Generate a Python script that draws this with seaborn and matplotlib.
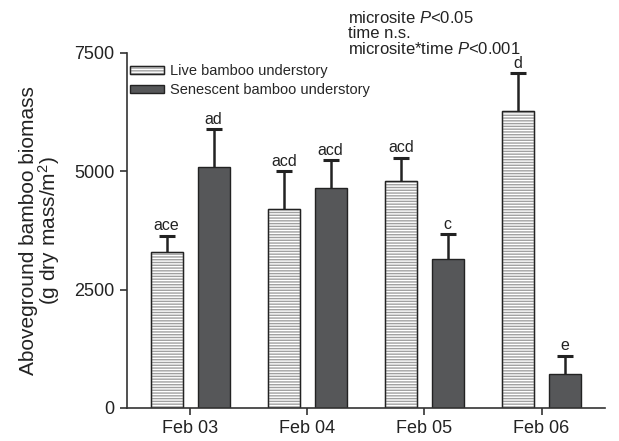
import numpy as np
import pandas as pd
import seaborn as sns
import matplotlib.pyplot as plt
from matplotlib import patches
from matplotlib.legend_handler import HandlerTuple

# data
dates = ["Feb 03", "Feb 04", "Feb 05", "Feb 06"]
groups = ["Live bamboo understory", "Senescent bamboo understory"]
live = [3300, 4200, 4790, 6270]
live_err = [340, 800, 490, 800]
senescent = [5090, 4640, 3140, 720]
senescent_err = [800, 590, 530, 380]
live_letters = ["ace", "acd", "acd", "d"]
senescent_letters = ["ad", "acd", "c", "e"]
yticks = [0, 2500, 5000, 7500]

DARK = "#555759"
HATCH_GREY = "#a0a0a0"
BLACK = "#222222"

sns.set_style("ticks")
plt.rcParams["font.family"] = ["Liberation Sans", "DejaVu Sans"]
plt.rcParams["mathtext.fontset"] = "custom"
plt.rcParams["mathtext.rm"] = "Liberation Sans"
plt.rcParams["mathtext.it"] = "Liberation Sans:italic"
plt.rcParams["hatch.linewidth"] = 1.0

df = pd.DataFrame({
    "date": dates * 2,
    "biomass": live + senescent,
    "understory": [groups[0]] * 4 + [groups[1]] * 4,
})

fig = plt.figure(figsize=(6.19, 4.41), dpi=100)
ax = fig.add_axes([0.205, 0.075, 0.772, 0.805])

sns.barplot(data=df, x="date", y="biomass", hue="understory", hue_order=groups,
            palette=["white", DARK], width=0.8, gap=0.315, errorbar=None,
            legend=False, edgecolor=BLACK, linewidth=1.0, ax=ax)

live_bars, sen_bars = ax.containers[0], ax.containers[1]

# horizontal grey hatching on live bars, black outline drawn on top
outlines = []
for p in live_bars:
    p.set_hatch("------")
    p.set_edgecolor(HATCH_GREY)
    r = patches.Rectangle((p.get_x(), p.get_y()), p.get_width(), p.get_height(),
                          fill=False, edgecolor=BLACK, lw=1.0, zorder=p.get_zorder() + 0.1)
    ax.add_patch(r)
    outlines.append(r)

# upper error bars only, with significance letters
for bars, vals, errs, letters in [(live_bars, live, live_err, live_letters),
                                  (sen_bars, senescent, senescent_err, senescent_letters)]:
    xs = [p.get_x() + p.get_width() / 2 for p in bars]
    eb = ax.errorbar(xs, vals, yerr=[np.zeros(len(errs)), errs], fmt="none",
                     ecolor=BLACK, elinewidth=1.8, capsize=6, capthick=2.2, zorder=1)
    eb[1][0].remove()  # drop the lower caps
    for x, v, e, s in zip(xs, vals, errs, letters):
        ax.annotate(s, xy=(x, v + e), xytext=(0, 4), textcoords="offset points",
                    ha="center", va="baseline", fontsize=11.5, color=BLACK)

ax.set_xlim(-0.54, 3.54)
ax.set_ylim(0, 7500)
ax.set_yticks(yticks)
ax.set_yticklabels([str(t) for t in yticks])
ax.set_xlabel("")
ax.set_ylabel("Aboveground bamboo biomass\n(g dry mass/m$^2$)", fontsize=15,
              labelpad=9, linespacing=0.9, color=BLACK)
ax.tick_params(axis="both", labelsize=13, length=5, width=1.2, color="#333333",
               labelcolor=BLACK, pad=4)
sns.despine(ax=ax)
for s in ["left", "bottom"]:
    ax.spines[s].set_linewidth(1.2)
    ax.spines[s].set_color("#333333")

leg_handles = [(live_bars[0], outlines[0]), sen_bars[0]]
ax.legend(leg_handles, groups, handler_map={tuple: HandlerTuple(ndivide=1, pad=0)},
          loc="upper left", bbox_to_anchor=(-0.005, 0.985), frameon=False,
          fontsize=10.5, handlelength=2.3, handleheight=0.5, handletextpad=0.4,
          labelspacing=0.35, borderaxespad=0)

# statistics note
fig.text(0.563, 0.948, "microsite $P$<0.05", fontsize=12, va="baseline", color=BLACK)
fig.text(0.563, 0.913, "time n.s.", fontsize=12, va="baseline", color=BLACK)
fig.text(0.563, 0.878, "microsite*time $P$<0.001", fontsize=12, va="baseline", color=BLACK)

fig.savefig("out.png", dpi=100)
